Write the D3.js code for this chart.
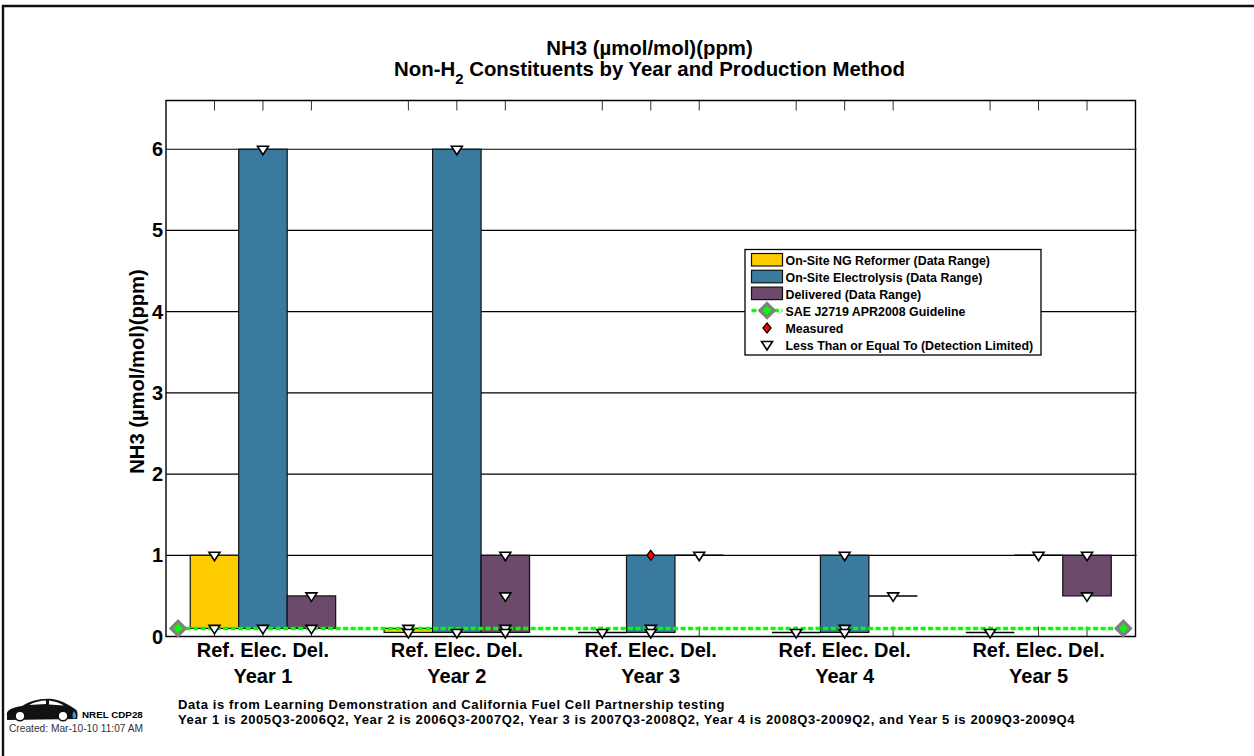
<!DOCTYPE html>
<meta charset="utf-8">
<style>
body { margin: 0; background: #fff; }
text { font-family: "Liberation Sans", Arial, sans-serif; font-weight: bold; fill: #000; }
</style>
<svg width="1254" height="756"></svg>
<script src="https://d3js.org/d3.v7.min.js"></script>
<script>

var years = ["Year 1", "Year 2", "Year 3", "Year 4", "Year 5"];
var methods = ["Ref.", "Elec.", "Del."];
var methodNames = ["On-Site NG Reformer (Data Range)", "On-Site Electrolysis (Data Range)", "Delivered (Data Range)"];
var methodColors = ["#ffcc00", "#3a7a9f", "#6b4a6b"];

// [low, high] per year, per method
var refRange = [[0.1, 1], [0.05, 0.1], [0.05, 0.05], [0.05, 0.05], [0.05, 0.05]];
var elecRange = [[0.1, 6], [0.05, 6], [0.05, 1], [0.05, 1], [1, 1]];
var delRange = [[0.1, 0.5], [0.05, 1], [1, 1], [0.5, 0.5], [0.5, 1]];

// detection limited points per year
var refLimited = [[1, 0.1], [0.1, 0.05], [0.05], [0.05], [0.05]];
var elecLimited = [[6, 0.1], [6, 0.05], [0.1, 0.05], [1, 0.1, 0.05], [1]];
var delLimited = [[0.5, 0.1], [1, 0.5, 0.1, 0.05], [1], [0.5], [1, 0.5]];

var measured = [{year: 2, method: 1, value: 1}];
var guideline = 0.1;
var yTicks = [0, 1, 2, 3, 4, 5, 6];

var svg = d3.select("svg");

var x = d3.scaleLinear().domain([0, 20]).range([166, 1135.5]);
var y = d3.scaleLinear().domain([0, 6.6]).range([636.5, 100.5]);

var green = "#00ff00";

// slot on the x axis for a method in a year
function slot(year, method) { return year * 4 + method + 1; }

var ranges = [refRange, elecRange, delRange];
var limited = [refLimited, elecLimited, delLimited];
var slots = d3.merge(years.map(function(d, i) { return methods.map(function(m, j) { return slot(i, j); }); }));

// frame is only drawn on the top and left
svg.append("path").attr("d", "M3,756V6H1254")
    .attr("fill", "none").attr("stroke", "#111").attr("stroke-width", 2.4);

// grid
svg.append("g").selectAll("line").data(yTicks.slice(1)).enter().append("line")
    .attr("x1", x.range()[0]).attr("x2", x.range()[1] + 1)
    .attr("y1", function(d) { return y(d); }).attr("y2", function(d) { return y(d); })
    .attr("stroke", "#000").attr("stroke-width", 1.2);

// ticks inside the box, top and bottom
var ticks = svg.append("g").attr("stroke", "#333").attr("stroke-width", 1);
ticks.selectAll(".tb").data(slots).enter().append("line").attr("class", "tb")
    .attr("x1", function(d) { return x(d); }).attr("x2", function(d) { return x(d); })
    .attr("y1", y(0)).attr("y2", y(0) - 10);
ticks.selectAll(".tt").data(slots).enter().append("line").attr("class", "tt")
    .attr("x1", function(d) { return x(d); }).attr("x2", function(d) { return x(d); })
    .attr("y1", y.range()[1]).attr("y2", y.range()[1] + 10);

// bars
years.forEach(function(yr, i) {
  methods.forEach(function(m, j) {
    var r = ranges[j][i];
    if (r[0] === r[1]) {
      svg.append("line")
          .attr("x1", x(slot(i, j) - 0.5)).attr("x2", x(slot(i, j) + 0.5))
          .attr("y1", y(r[0])).attr("y2", y(r[0]))
          .attr("stroke", "#000").attr("stroke-width", 1.5);
    } else {
      svg.append("rect")
          .attr("x", x(slot(i, j) - 0.5)).attr("width", x(1) - x(0))
          .attr("y", y(r[1])).attr("height", y(r[0]) - y(r[1]))
          .attr("fill", methodColors[j]).attr("stroke", "#111").attr("stroke-width", 1.2);
    }
  });
});

// guideline
svg.append("line")
    .attr("x1", x(0.25)).attr("x2", x(19.75))
    .attr("y1", y(guideline)).attr("y2", y(guideline))
    .attr("stroke", green).attr("stroke-width", 3.5).attr("stroke-dasharray", "5 2.5");

// axes box
svg.append("path")
    .attr("d", "M" + x.range()[0] + "," + y.range()[1] + "H" + x.range()[1] + "V" + y.range()[0] + "H" + x.range()[0] + "Z")
    .attr("fill", "none").attr("stroke", "#000").attr("stroke-width", 1.4);

function triangle(g, cx, cy) {
  g.append("path")
      .attr("d", "M" + (cx - 5.5) + "," + (cy - 3) + "H" + (cx + 5.5) + "L" + cx + "," + (cy + 5.5) + "Z")
      .attr("fill", "#fff").attr("stroke", "#000").attr("stroke-width", 1.6);
}

function diamond(g, cx, cy, rx, ry, fill, stroke, sw) {
  g.append("path")
      .attr("d", "M" + cx + "," + (cy - ry) + "L" + (cx + rx) + "," + cy + "L" + cx + "," + (cy + ry) + "L" + (cx - rx) + "," + cy + "Z")
      .attr("fill", fill).attr("stroke", stroke).attr("stroke-width", sw);
}

// markers
var marks = svg.append("g");
limited.forEach(function(byYear, j) {
  byYear.forEach(function(vals, i) {
    vals.forEach(function(v) { triangle(marks, x(slot(i, j)), y(v)); });
  });
});
measured.forEach(function(d) {
  diamond(marks, x(slot(d.year, d.method)), y(d.value), 3.8, 5, "#f00", "#000", 1.3);
});
[x(0.25), x(19.75)].forEach(function(px) {
  diamond(marks, px, y(guideline), 6.9, 6.9, green, "#808080", 3.4);
});

// y tick labels
svg.append("g").selectAll("text").data(yTicks).enter().append("text")
    .attr("x", 163).attr("y", function(d) { return y(d) + 7; })
    .attr("text-anchor", "end").attr("font-size", 20).text(function(d) { return d; });

// x labels, one line of methods under each year
years.forEach(function(yr, i) {
  svg.append("text").attr("x", x(slot(i, 1))).attr("y", 657).attr("text-anchor", "middle")
      .attr("font-size", 20).text(methods.join(" "));
  svg.append("text").attr("x", x(slot(i, 1))).attr("y", 682.5).attr("text-anchor", "middle")
      .attr("font-size", 20).text(yr);
});

// title
svg.append("text").attr("x", 649.5).attr("y", 55).attr("text-anchor", "middle")
    .attr("font-size", 20.4).text("NH3 (µmol/mol)(ppm)");
var t2 = svg.append("text").attr("x", 649.5).attr("y", 76).attr("text-anchor", "middle").attr("font-size", 20.4);
t2.append("tspan").text("Non-H");
t2.append("tspan").attr("dy", 8).attr("font-size", 15).text("2");
t2.append("tspan").attr("dy", -8).text(" Constituents by Year and Production Method");

// y label
svg.append("text").attr("transform", "translate(143.5,371.5) rotate(-90)").attr("text-anchor", "middle")
    .attr("font-size", 20.2).text("NH3 (µmol/mol)(ppm)");

// legend
var legend = svg.append("g").attr("transform", "translate(745,249.5)");
legend.append("rect").attr("width", 296).attr("height", 105.5)
    .attr("fill", "#fff").attr("stroke", "#000").attr("stroke-width", 1.3);
var legendLabels = methodNames.concat(["SAE J2719 APR2008 Guideline", "Measured", "Less Than or Equal To (Detection Limited)"]);
legend.selectAll("text").data(legendLabels).enter().append("text")
    .attr("x", 40.5).attr("y", function(d, i) { return 15 + i * 17; })
    .attr("font-size", 12.4).text(function(d) { return d; });
methodColors.forEach(function(c, i) {
  legend.append("rect").attr("x", 6.5).attr("y", 4 + i * 16.8).attr("width", 31).attr("height", 12.5)
      .attr("fill", c).attr("stroke", "#111").attr("stroke-width", 1.2);
});
legend.append("line").attr("x1", 6.5).attr("x2", 37.5).attr("y1", 61).attr("y2", 61)
    .attr("stroke", green).attr("stroke-width", 3.5).attr("stroke-dasharray", "5 2.5");
diamond(legend, 22, 61, 6.9, 6.9, green, "#808080", 3.4);
diamond(legend, 22, 78.5, 4, 5, "#f00", "#000", 1.3);
triangle(legend, 22, 95);

// footer notes
svg.append("text").attr("x", 178).attr("y", 708.5).attr("font-size", 13).style("letter-spacing", "0.6px")
    .text("Data is from Learning Demonstration and California Fuel Cell Partnership testing");
svg.append("text").attr("x", 178).attr("y", 723.5).attr("font-size", 13).style("letter-spacing", "0.6px")
    .text("Year 1 is 2005Q3-2006Q2, Year 2 is 2006Q3-2007Q2, Year 3 is 2007Q3-2008Q2, Year 4 is 2008Q3-2009Q2, and Year 5 is 2009Q3-2009Q4");
svg.append("text").attr("x", 82).attr("y", 718).attr("font-size", 9.8).text("NREL CDP28");
svg.append("text").attr("x", 9).attr("y", 732).attr("font-size", 10.2).style("font-weight", "normal").style("fill", "#333")
    .text("Created: Mar-10-10 11:07 AM");

// car logo
var car = svg.append("g");
car.append("path")
    .attr("d", "M7,716 C6,711 9,708 22,706 C30,701 40,698 52,699 C60,700 68,704 75,709 C78,711 78,715 77,719 L7,720 Z")
    .attr("fill", "#111");
car.append("path").attr("d", "M29,705 C34,702 41,700.5 46,700.5 L46,704 Z M49,700.5 C54,701 60,703 64,705.5 L49,704.5 Z").attr("fill", "#fff");
[20, 63].forEach(function(cx) {
  car.append("circle").attr("cx", cx).attr("cy", 716).attr("r", 4.8).attr("fill", "#fff").attr("stroke", "#111").attr("stroke-width", 1.5);
});
car.append("path").attr("d", "M74,711 C76,714 77,717 75,718.5 C73,719.5 71,716 74,711 Z").attr("fill", "#3a9ad9");

</script>
